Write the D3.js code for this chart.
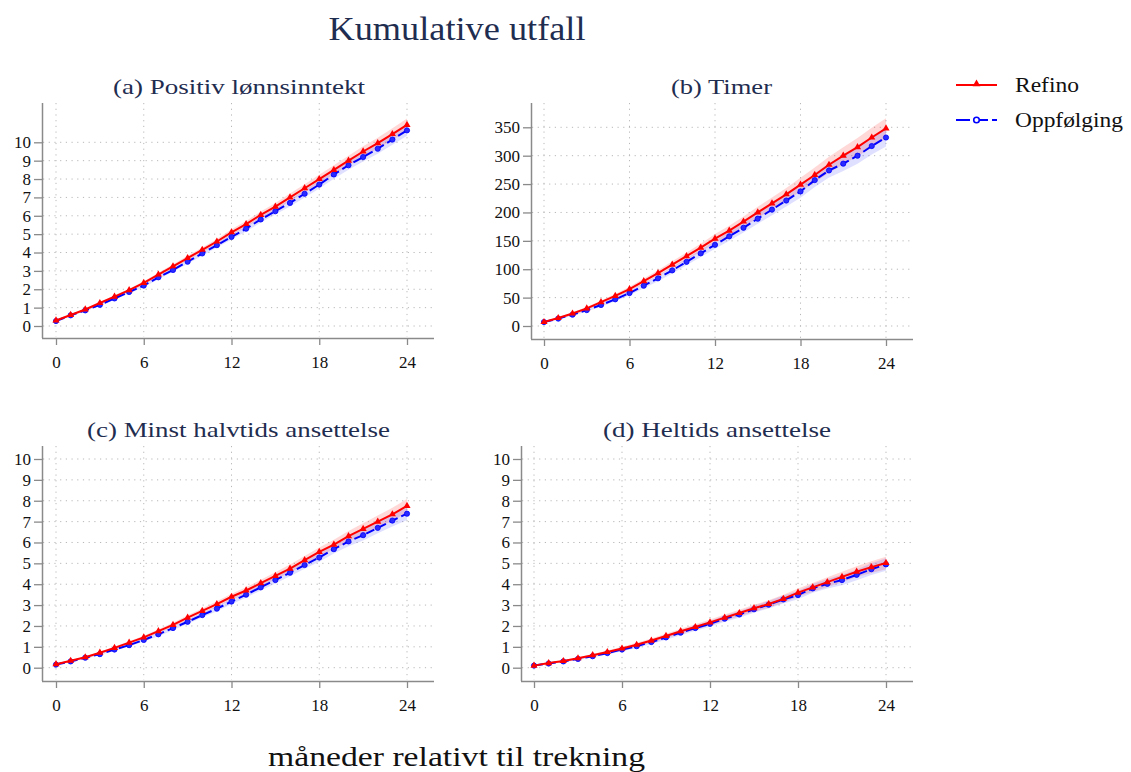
<!DOCTYPE html>
<meta charset="utf-8">
<head>
<style>
body { margin: 0; background: #fff; }
text { font-family: "Liberation Serif", "DejaVu Serif", serif; }
</style>
</head>
<body>
<div id="chart"></div>
<script src="https://d3js.org/d3.v7.min.js"></script>
<script>

// months relative to the draw
const months = d3.range(0, 25);

const titles = ["(a) Positiv lønnsinntekt", "(b) Timer", "(c) Minst halvtids ansettelse", "(d) Heltids ansettelse"];
const seriesNames = ["Refino", "Oppfølging"];
const xTicks = [0, 6, 12, 18, 24];
const yTicksShare = [0, 1, 2, 3, 4, 5, 6, 7, 8, 9, 10];
const yTicksHours = [0, 50, 100, 150, 200, 250, 300, 350];

// (a) positive wage income
const aRefino = [0.3,0.6,0.9,1.25,1.6,1.95,2.35,2.8,3.25,3.7,4.15,4.6,5.1,5.55,6.05,6.5,7.0,7.5,8.0,8.5,9.0,9.5,9.95,10.45,10.95];
const aOppf   = [0.27,0.58,0.85,1.15,1.5,1.85,2.2,2.65,3.05,3.5,3.95,4.4,4.85,5.3,5.8,6.25,6.7,7.2,7.7,8.25,8.75,9.2,9.65,10.15,10.65];
const aRefinoCi = [0.03,0.04,0.05,0.06,0.07,0.08,0.09,0.1,0.11,0.12,0.13,0.14,0.16,0.17,0.18,0.2,0.21,0.22,0.24,0.25,0.27,0.29,0.3,0.32,0.35];
const aOppfCi   = [0.03,0.04,0.05,0.06,0.07,0.08,0.09,0.1,0.1,0.11,0.12,0.13,0.14,0.15,0.17,0.18,0.19,0.2,0.21,0.23,0.24,0.25,0.27,0.28,0.3];

// (b) hours
const bRefino = [7,14,22,31,42,53,65,79,93,108,123,138,154,168,184,200,216,232,249,266,284,300,315,332,348];
const bOppf   = [7,13,20,28,37,47,58,71,84,98,113,128,143,158,173,189,205,221,237,257,274,286,300,317,332];
const bRefinoCi = [1,1.5,2,2.5,3,3.5,4,4.5,5,6,6.5,7,8,8.5,9,10,10.5,11,12,13,14,15,16,17,18];
const bOppfCi   = [1,1.5,2,2.5,3,3.5,4,4.5,5,5.5,6,6.5,7,8,8.5,9,10,10.5,11,12,12.5,13,14,15,16];

// (c) at least half-time employment
const cRefino = [0.17,0.33,0.5,0.72,0.95,1.2,1.45,1.75,2.05,2.4,2.72,3.05,3.4,3.7,4.05,4.4,4.75,5.15,5.55,5.9,6.3,6.65,7.0,7.35,7.75];
const cOppf   = [0.15,0.3,0.48,0.65,0.87,1.08,1.33,1.6,1.9,2.2,2.52,2.83,3.17,3.5,3.85,4.2,4.55,4.92,5.28,5.68,6.05,6.35,6.7,7.05,7.38];
const cRefinoCi = [0.02,0.03,0.04,0.05,0.06,0.07,0.08,0.09,0.1,0.11,0.12,0.13,0.14,0.15,0.16,0.17,0.19,0.2,0.21,0.23,0.25,0.27,0.29,0.31,0.33];
const cOppfCi   = [0.02,0.03,0.04,0.05,0.06,0.07,0.08,0.09,0.1,0.1,0.11,0.12,0.13,0.14,0.15,0.16,0.17,0.18,0.2,0.21,0.23,0.25,0.26,0.28,0.3];

// (d) full-time employment
const dRefino = [0.1,0.22,0.32,0.45,0.6,0.75,0.92,1.1,1.3,1.52,1.75,1.95,2.17,2.4,2.62,2.85,3.05,3.3,3.6,3.85,4.1,4.35,4.6,4.82,5.02];
const dOppf   = [0.1,0.2,0.3,0.42,0.55,0.7,0.87,1.03,1.23,1.45,1.68,1.9,2.1,2.35,2.55,2.8,3.02,3.27,3.48,3.8,4.02,4.2,4.45,4.72,4.95];
const dRefinoCi = [0.02,0.03,0.04,0.05,0.06,0.07,0.08,0.09,0.1,0.11,0.12,0.13,0.14,0.15,0.16,0.17,0.18,0.19,0.2,0.21,0.23,0.25,0.26,0.28,0.3];
const dOppfCi   = [0.02,0.03,0.04,0.05,0.06,0.07,0.08,0.09,0.1,0.11,0.12,0.13,0.14,0.15,0.16,0.17,0.18,0.19,0.2,0.21,0.23,0.25,0.26,0.28,0.3];

const W = 1131, H = 772;
const navy = "#1f2d50";
const axisCol = "#8a8a8a";

const svg = d3.select("#chart").append("svg")
    .attr("width", W)
    .attr("height", H);

svg.append("rect").attr("width", W).attr("height", H).attr("fill", "#fff");

// the reference font (Computer Modern) runs wider than Liberation Serif,
// so stretch texts to the measured widths
function label(sel, x, y, size, width, fill, txt, anchor) {
    return sel.append("text")
        .attr("x", x).attr("y", y)
        .attr("text-anchor", anchor || "middle")
        .attr("font-size", size)
        .attr("fill", fill)
        .attr("textLength", width)
        .attr("lengthAdjust", "spacingAndGlyphs")
        .text(txt);
}

// main title
label(svg, 457, 40, 33, 257, navy, "Kumulative utfall");

// panel frames (pixel boxes) and scales
const panels = [
  {title: titles[0], ref: aRefino, opp: aOppf, refCi: aRefinoCi, oppCi: aOppfCi, yTicks: yTicksShare, yMax: 10,
   left: 42, right: 434, top: 103, bottom: 338, x0: 56, x24: 407, yZero: 326, yTop: 142.3, tx: 239, ty: 94, tw: 252},
  {title: titles[1], ref: bRefino, opp: bOppf, refCi: bRefinoCi, oppCi: bOppfCi, yTicks: yTicksHours, yMax: 350,
   left: 531, right: 913, top: 103, bottom: 339, x0: 544, x24: 886, yZero: 326, yTop: 127.3, tx: 721.5, ty: 94, tw: 101},
  {title: titles[2], ref: cRefino, opp: cOppf, refCi: cRefinoCi, oppCi: cOppfCi, yTicks: yTicksShare, yMax: 10,
   left: 42, right: 434, top: 446, bottom: 681, x0: 56, x24: 407, yZero: 667.7, yTop: 459, tx: 238.5, ty: 437, tw: 303},
  {title: titles[3], ref: dRefino, opp: dOppf, refCi: dRefinoCi, oppCi: dOppfCi, yTicks: yTicksShare, yMax: 10,
   left: 521, right: 913, top: 446, bottom: 681, x0: 534, x24: 886, yZero: 667.7, yTop: 459, tx: 717, ty: 437, tw: 228}
];

panels.forEach(function(p) {
    const x = d3.scaleLinear().domain([0, 24]).range([p.x0, p.x24]);
    const y = d3.scaleLinear().domain([0, p.yMax]).range([p.yZero, p.yTop]);
    const g = svg.append("g");

    label(g, p.tx, p.ty, 22, p.tw, navy, p.title);

    // dotted grid
    g.selectAll(".hgrid").data(p.yTicks).enter().append("line")
        .attr("x1", p.left + 1).attr("x2", p.right)
        .attr("y1", d => y(d)).attr("y2", d => y(d))
        .attr("stroke", "#b8b8b8").attr("stroke-width", 1)
        .attr("stroke-dasharray", "1.2,4.5");
    g.selectAll(".vgrid").data(xTicks).enter().append("line")
        .attr("x1", d => x(d)).attr("x2", d => x(d))
        .attr("y1", p.top).attr("y2", p.bottom - 1)
        .attr("stroke", "#b8b8b8").attr("stroke-width", 1)
        .attr("stroke-dasharray", "1.2,4.5");

    // axes
    const xAxis = d3.axisBottom(x).tickValues(xTicks).tickSize(7).tickPadding(11);
    const yAxis = d3.axisLeft(y).tickValues(p.yTicks).tickSize(8).tickPadding(3);

    const gx = g.append("g").attr("transform", "translate(0," + p.bottom + ")").call(xAxis);
    gx.select(".domain").attr("d", "M" + p.left + ",0.5H" + p.right);
    const gy = g.append("g").attr("transform", "translate(" + p.left + ",0)").call(yAxis);
    gy.select(".domain").attr("d", "M0.5," + p.top + "V" + p.bottom);

    [gx, gy].forEach(function(a) {
        a.select(".domain").attr("stroke", axisCol).attr("stroke-width", 1.5);
        a.selectAll(".tick line").attr("stroke", axisCol).attr("stroke-width", 1.3);
        a.selectAll(".tick text").attr("font-family", "Liberation Serif, serif")
            .attr("font-size", 17).attr("fill", "#111");
    });

    // confidence bands
    const band = (vals, ci) => d3.area()
        .x((d, i) => x(months[i]))
        .y0((d, i) => y(vals[i] - ci[i]))
        .y1((d, i) => y(vals[i] + ci[i]))(vals);

    g.append("path").attr("d", band(p.ref, p.refCi)).attr("fill", "rgba(255,40,40,0.18)");
    g.append("path").attr("d", band(p.opp, p.oppCi)).attr("fill", "rgba(40,40,255,0.15)");

    const line = d3.line().x((d, i) => x(months[i])).y(d => y(d));

    g.append("path").attr("d", line(p.opp))
        .attr("fill", "none").attr("stroke", "#0000ff").attr("stroke-width", 2)
        .attr("stroke-dasharray", "9,4");
    g.selectAll(".opp").data(p.opp).enter().append("circle")
        .attr("cx", (d, i) => x(months[i])).attr("cy", d => y(d))
        .attr("r", 2.6).attr("fill", "#2a2aff").attr("stroke", "#0000ff").attr("stroke-width", 0.8);

    g.append("path").attr("d", line(p.ref))
        .attr("fill", "none").attr("stroke", "#ff0000").attr("stroke-width", 2);
    g.selectAll(".ref").data(p.ref).enter().append("path")
        .attr("d", d3.symbol().type(d3.symbolTriangle).size(22))
        .attr("transform", (d, i) => "translate(" + x(months[i]) + "," + y(d) + ")")
        .attr("fill", "#ff0000");
});

// legend
const legend = svg.append("g");
legend.append("line").attr("x1", 956).attr("x2", 997).attr("y1", 85).attr("y2", 85)
    .attr("stroke", "#ff0000").attr("stroke-width", 2.2);
legend.append("path").attr("d", d3.symbol().type(d3.symbolTriangle).size(26))
    .attr("transform", "translate(976.5,84)").attr("fill", "#ff0000");
label(legend, 1015, 92, 21, 64, "#111", seriesNames[0], "start");

legend.append("line").attr("x1", 956).attr("x2", 997).attr("y1", 120).attr("y2", 120)
    .attr("stroke", "#0000ff").attr("stroke-width", 2.2).attr("stroke-dasharray", "14,4");
legend.append("circle").attr("cx", 976.5).attr("cy", 120).attr("r", 2.8)
    .attr("fill", "#fff").attr("stroke", "#0000ff").attr("stroke-width", 1.6);
label(legend, 1015, 127, 21, 108, "#111", seriesNames[1], "start");

// shared x label
label(svg, 456.5, 766, 28, 377, "#111", "måneder relativt til trekning");

</script>
</body>
</html>
